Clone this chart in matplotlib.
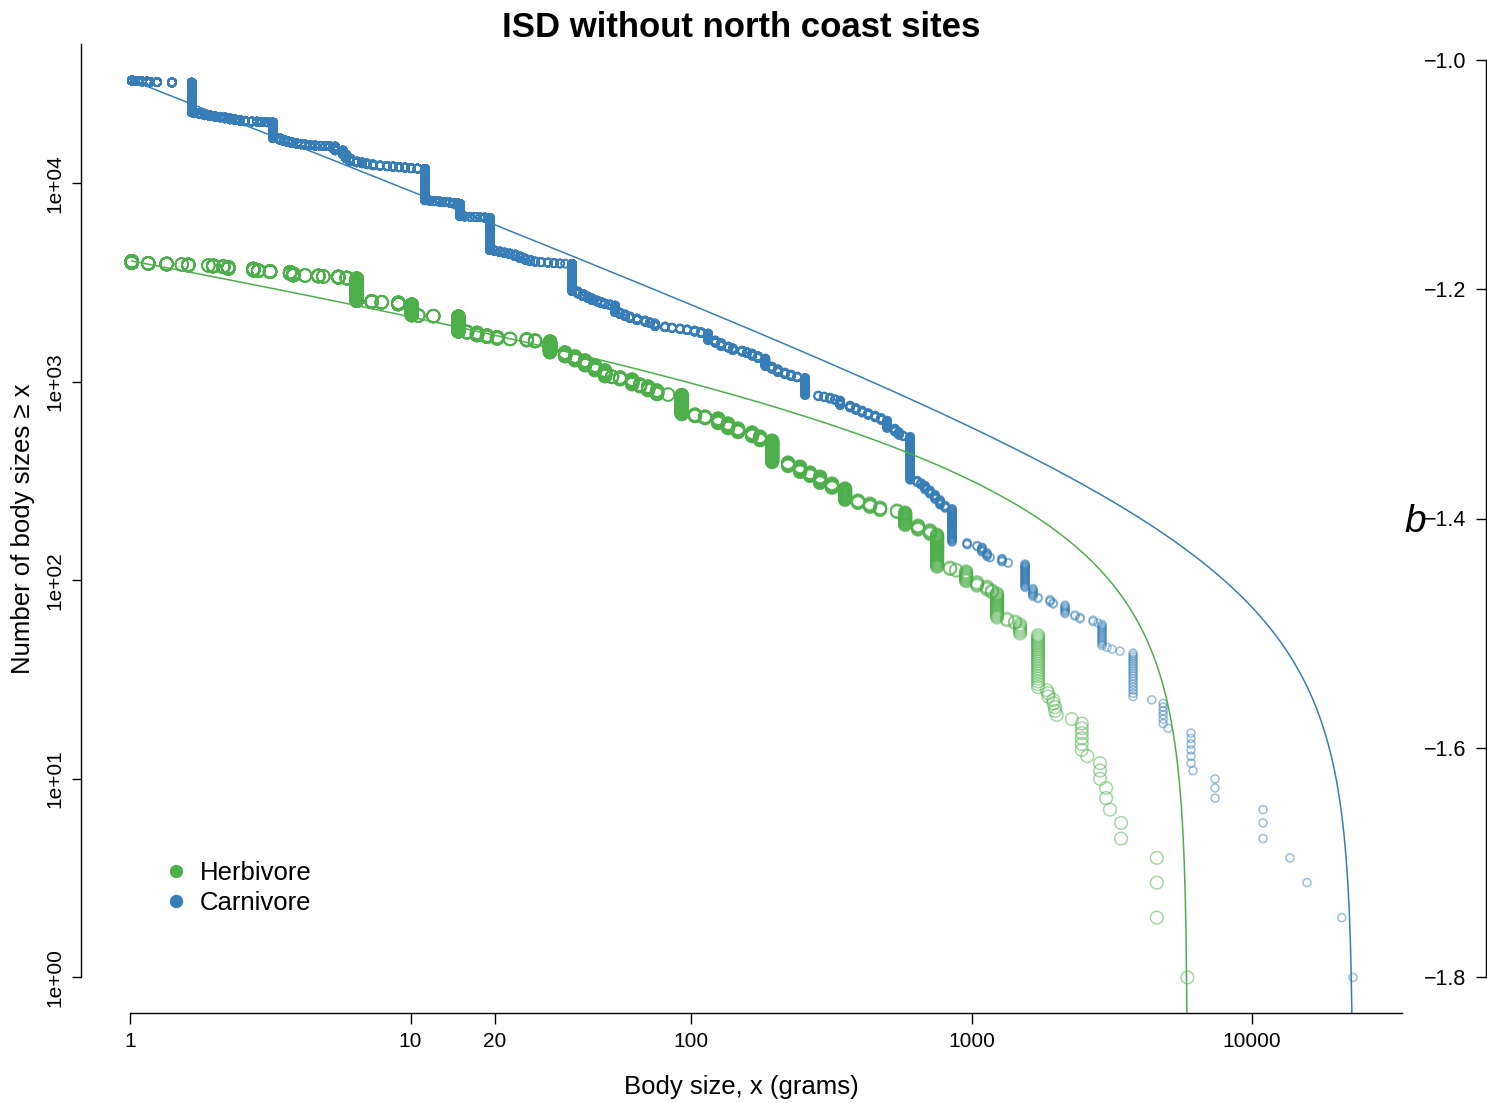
"""
ISD (individual size distribution) of herbivores and carnivores,
north coast sites excluded, with truncated power-law fits
"""
import numpy as np
import matplotlib
matplotlib.use('Agg')
import matplotlib.pyplot as plt
from matplotlib.lines import Line2D
from matplotlib.ticker import NullLocator

plt.rcParams['font.family'] = ['Liberation Sans', 'DejaVu Sans']

GREEN = '#4DAF4A'
BLUE = '#377EB8'

# distinct body sizes (g) and number of body sizes >= that size
herb_size = [1.014, 1.162, 1.351, 1.529, 1.614, 1.902, 1.981, 2.151, 2.241, 2.752,
             2.867, 3.156, 3.720, 3.821, 4.207, 4.692, 4.889, 5.529, 5.923, 6.431,
             7.272, 7.893, 9.049, 10.10, 10.66, 12.06, 14.81, 15.90, 17.26, 18.74,
             20.34, 22.63, 25.96, 27.79, 31.42, 35.55, 38.60, 41.90, 45.49, 49.36,
             52.28, 55.84, 61.63, 65.80, 70.27, 75.65, 82.79, 92.64, 103.3, 112.2,
             124.9, 135.5, 147.1, 165.0, 176.2, 194.5, 221.8, 244.7, 265.6, 288.4,
             318.1, 354.0, 393.9, 434.6, 471.9, 542.5, 579.5, 644.6, 711.2, 753.5,
             838.3, 880.5, 955.9, 1046, 1136, 1183, 1233, 1338, 1429, 1489,
             1726, 1854, 1878, 1957, 1985, 2013, 2276, 2471, 2587, 2872,
             3017, 3117, 3412, 4575, 5881]
herb_count = [4062, 3967, 3940, 3908, 3900, 3864, 3855, 3819, 3787, 3717,
              3645, 3616, 3574, 3508, 3441, 3430, 3402, 3390, 3350, 3320,
              2554, 2525, 2510, 2457, 2163, 2150, 2138, 1790, 1770, 1715,
              1682, 1650, 1640, 1619, 1600, 1408, 1344, 1283, 1211, 1143,
              1066, 1055, 1029, 971, 949, 906, 865, 860, 686, 670,
              655, 618, 583, 557, 531, 507, 393, 375, 350, 334,
              308, 291, 253, 244, 233, 225, 220, 189, 179, 170,
              116, 113, 111, 98, 93, 89, 86, 64, 62, 60,
              53, 28, 27, 25, 23, 21, 20, 19, 13, 12,
              9, 7, 6, 4, 1]

carn_size = [1.016, 1.042, 1.068, 1.104, 1.150, 1.178, 1.248, 1.411, 1.66,
             1.70, 1.776, 1.85, 1.929, 2.01, 2.094, 2.18, 2.273, 2.37, 2.467,
             2.57, 2.72, 2.836, 2.95, 3.078, 3.21, 3.24,
             3.43, 3.54, 3.66, 3.78, 3.94, 4.07, 4.21, 4.38, 4.57, 4.76,
             4.96, 5.16, 5.38, 5.74, 5.89, 6.09,
             6.44, 6.72, 7.00, 7.35, 7.79, 8.25, 8.66, 9.10, 9.55, 10.04,
             10.6, 11.27,
             11.7, 12.23, 12.7, 13.27, 13.8, 14.3, 14.8, 15.0,
             15.6, 16.3, 17.0, 17.7, 18.4, 19.2,
             20.0, 20.85, 21.7, 22.6, 23.6, 24.6, 25.6, 26.7, 27.8, 29.2,
             30.9, 32.5, 34.1, 35.6, 37.7,
             39.5, 41.2, 42.9, 44.4, 46.3, 47.8, 49.3, 51.4, 53.6, 55.8,
             58.2, 60.6, 64.2, 68.6, 71.4, 74.4, 80.8, 85.6, 91.4, 96.8,
             103, 108.6, 115, 122, 128, 136, 141, 152, 158.3, 165,
             173.4, 184, 194, 204, 216, 227, 239, 255,
             284, 298, 313, 326, 340, 369, 387, 407, 428, 453,
             476, 500, 533, 551, 570, 604,
             640, 661, 683, 711, 741, 772, 805, 852,
             964, 1047, 1090, 1135, 1163, 1284, 1350, 1552,
             1656, 1726, 1905, 1953, 2155, 2338, 2437, 2712, 2825, 2918,
             3040, 3170, 3383, 3765, 4390, 4820, 5020, 6060, 6160, 7380,
             10940, 13650, 15700, 20900, 22900]
carn_count = [33030, 32900, 32800, 32700, 32600, 32500, 32400, 32300, 32200,
              22800, 22540, 22280, 22020, 21770, 21630, 21490, 21250, 21000, 20850,
              20700, 20530, 20490, 20450, 20380, 20300, 20250,
              16860, 16550, 16290, 16100, 15920, 15800, 15710, 15620, 15530, 15480,
              15440, 15400, 15350, 14660, 14000, 13360,
              12900, 12750, 12610, 12470, 12320, 12250, 12180, 12110, 12040, 11970,
              11900, 11850,
              8210, 8160, 8117, 8070, 8024, 7980, 7930, 7900,
              6821, 6800, 6780, 6760, 6743, 6700,
              4597, 4545, 4491, 4440, 4389, 4290, 4191, 4120, 4047, 4020,
              4000, 3975, 3954, 3945, 3940,
              2857, 2780, 2697, 2640, 2574, 2530, 2486, 2460, 2429, 2239,
              2190, 2138, 2090, 2041, 2000, 1971, 1904, 1880, 1860, 1840,
              1817, 1785, 1755, 1619, 1570, 1510, 1480, 1441, 1415, 1392,
              1350, 1313, 1197, 1160, 1116, 1090, 1066, 1050,
              855, 845, 835, 820, 807, 761, 740, 719, 698, 678,
              660, 640, 583, 560, 538, 530,
              319, 310, 301, 285, 271, 255, 239, 230,
              155, 150, 147, 138, 131, 129, 123, 121,
              91, 82, 80, 77, 75, 67, 65, 63, 61, 60,
              46, 45, 44, 43, 25, 24, 18, 17, 11, 10,
              7, 4, 3, 2, 1]

# fitted exponents of the bounded power law
b_herb = -1.233
b_carn = -1.557

b_ticks = [-1.8, -1.6, -1.4, -1.2, -1.0]


def expand(sizes, counts):
    """one point per rank: each size gets ranks down to the next size's count + 1"""
    xs, ys = [], []
    for i, (s, c) in enumerate(zip(sizes, counts)):
        lo = counts[i + 1] + 1 if i + 1 < len(sizes) else 1
        r = np.arange(lo, c + 1)
        xs.append(np.full(len(r), s))
        ys.append(r)
    return np.concatenate(xs), np.concatenate(ys)


def isd_fit(b, sizes, counts):
    """bounded power-law: number of values >= x"""
    xmin, xmax, n = sizes[0], sizes[-1], counts[0]
    x = np.geomspace(xmin, xmax, 4000)
    x[-1] = xmax * (1 - 1e-9)
    c = b + 1
    return x, n * (x**c - xmax**c) / (xmin**c - xmax**c)


fig = plt.figure(figsize=(14.87, 11.03), dpi=100)
ax = fig.add_axes([0.05454, 0.08132, 0.8882, 0.8784])

hx, hy = expand(herb_size, herb_count)
cx, cy = expand(carn_size, carn_count)
ax.scatter(hx, hy, s=83, facecolors='none', edgecolors=GREEN, linewidths=1.1, alpha=0.5)
ax.scatter(cx, cy, s=33, facecolors='none', edgecolors=BLUE, linewidths=1.1, alpha=0.5)

fx, fy = isd_fit(b_herb, herb_size, herb_count)
ax.plot(fx, fy, color=GREEN, lw=1.1)
fx, fy = isd_fit(b_carn, carn_size, carn_count)
ax.plot(fx, fy, color=BLUE, lw=1.1)

ax.set_xscale('log')
ax.set_yscale('log')
xlim = (10**-0.1744, 10**4.534)
ylim = (10**-0.181, 10**4.70)
ax.set_xlim(xlim)
ax.set_ylim(ylim)

for side in ['top', 'right']:
    ax.spines[side].set_visible(False)
ax.spines['left'].set_bounds(1, ylim[1])
ax.spines['bottom'].set_bounds(1, xlim[1])
for side in ['left', 'bottom']:
    ax.spines[side].set_linewidth(1.0)

ax.set_xticks([1, 10, 20, 100, 1000, 10000])
ax.set_xticklabels(['1', '10', '20', '100', '1000', '10000'])
ax.set_yticks([1, 10, 100, 1000, 10000])
ax.set_yticklabels(['1e+00', '1e+01', '1e+02', '1e+03', '1e+04'])
ax.xaxis.set_minor_locator(NullLocator())
ax.yaxis.set_minor_locator(NullLocator())
ax.tick_params(axis='x', length=7.9, width=1.0, pad=5.8, labelsize=15)
ax.tick_params(axis='y', length=6.5, width=1.0, pad=5.4, labelsize=15)
for lab in ax.get_yticklabels():
    lab.set_rotation(90)
    lab.set_va('center')

ax.set_xlabel('Body size, x (grams)', fontsize=18.5)
ax.xaxis.label.set_va('baseline')
ax.xaxis.set_label_coords(0.5, -0.0833)
ax.set_ylabel('Number of body sizes \u2265 x', fontsize=18.5)
ax.yaxis.label.set_va('center')
ax.yaxis.set_label_coords(-0.0442, 0.5)

fig.text(741.5 / 1487, 1 - 37 / 1103, 'ISD without north coast sites',
         fontsize=25, fontweight='bold', ha='center', va='baseline')

handles = [Line2D([], [], ls='none', marker='o', ms=8.6, color=GREEN),
           Line2D([], [], ls='none', marker='o', ms=8.6, color=BLUE)]
ax.legend(handles, ['Herbivore', 'Carnivore'], loc='center left',
          bbox_to_anchor=(0.0641, 0.1295), frameon=False, fontsize=18.5,
          handlelength=0.8, handletextpad=0.53, labelspacing=0.25,
          borderpad=0, borderaxespad=0)

# separate axis for the exponent b on the right
bax = fig.add_axes([1485.5 / 1487, 126 / 1103, 0.0003, 917 / 1103])
bax.set_ylim(-1.8, -1.0)
bax.patch.set_visible(False)
for side in ['top', 'right', 'bottom']:
    bax.spines[side].set_visible(False)
bax.spines['left'].set_linewidth(1.0)
bax.set_xticks([])
bax.set_yticks(b_ticks)
bax.set_yticklabels([f'{v:.1f}'.replace('-', '\u2212') for v in b_ticks])
bax.tick_params(axis='y', direction='out', length=7.2, width=1.0, pad=6.5, labelsize=15.5)
fig.text(1415 / 1487, 1 - 532 / 1103, 'b', fontsize=28, style='italic',
         ha='center', va='baseline')

fig.savefig('out.png', dpi=100)
